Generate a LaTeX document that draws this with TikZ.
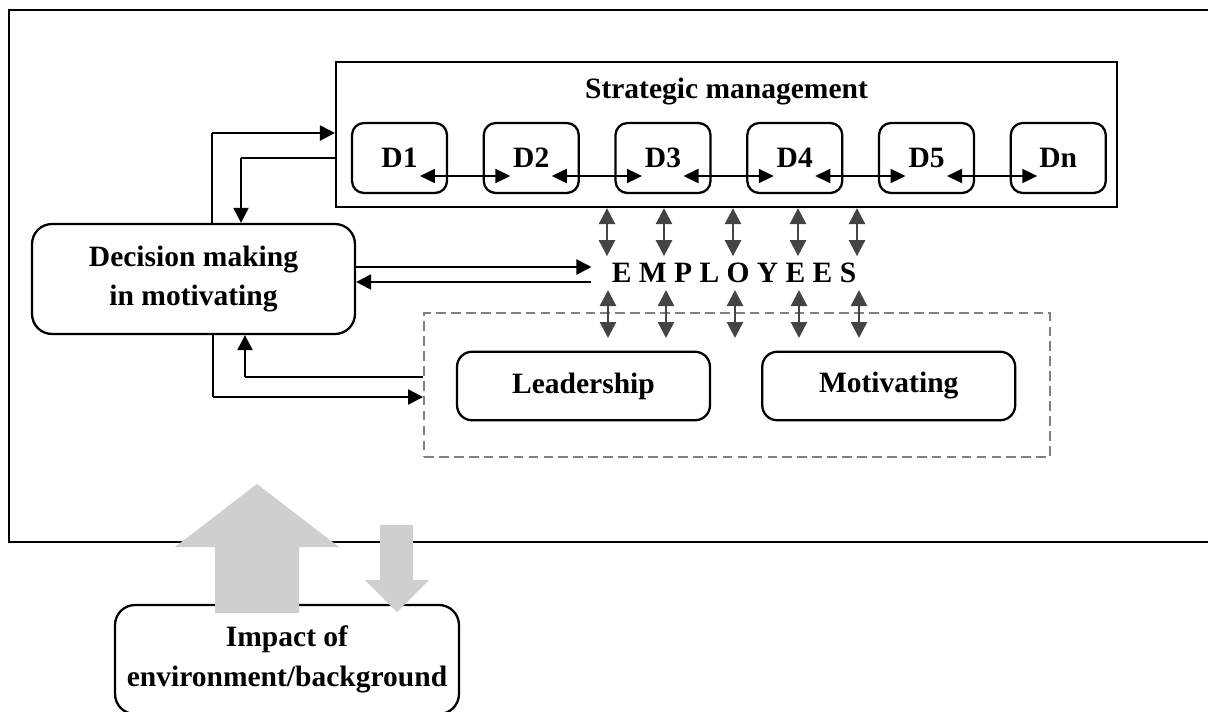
\documentclass[tikz,border=0pt]{standalone}
\usepackage{fontspec}
\setmainfont{Liberation Serif}
\usepackage{tikz}
\usetikzlibrary{arrows.meta, positioning}
\definecolor{empgray}{RGB}{68,68,68}
\definecolor{dashgray}{RGB}{128,128,128}
\definecolor{biggray}{RGB}{208,206,206}
\tikzstyle{boldtext} = [font=\fontsize{16.8}{22.5}\selectfont\bfseries, align=center]
\tikzstyle{frame} = [draw=black, line width=1.4pt]
\tikzstyle{dbox} = [rectangle, rounded corners=0.24cm, minimum width=1.9cm, minimum height=1.4cm, draw=black, line width=1.3pt, boldtext]
\tikzstyle{block} = [rectangle, rounded corners=0.4cm, draw=black, line width=1.3pt, boldtext]
\tikzstyle{smallblock} = [rectangle, rounded corners=0.3cm, minimum width=5.06cm, minimum height=1.37cm, draw=black, line width=1.3pt, boldtext]
\tikzstyle{arrow} = [line width=1.2pt, -{Triangle[length=3mm,width=3mm]}]
\tikzstyle{darrow} = [line width=1.2pt, {Triangle[length=3mm,width=2.8mm]}-{Triangle[length=3mm,width=2.8mm]}]
\tikzstyle{thinline} = [line width=0.7pt]
\tikzstyle{emparrow} = [line width=1.5pt, draw=empgray, {Triangle[length=3.2mm,width=3.2mm]}-{Triangle[length=3.2mm,width=3.2mm]}]

\begin{document}
\begin{tikzpicture}[x=0.02cm, y=-0.02cm]
\useasboundingbox (0,0) rectangle (1208,711);
\draw[frame] (1215,10) -- (9,10) -- (9,542) -- (1215,542);

% strategic management with decisions
\node (sm) [rectangle, draw=black, line width=1.3pt, minimum width=15.62cm, minimum height=2.9cm] at (726.5,134.5) {};
\node (smtitle) [boldtext] at (726.5,92) {Strategic management};
\node (d1) [dbox] at (399.5,158) {D1};
\node (d2) [dbox, right=0.69cm of d1] {D2};
\node (d3) [dbox, right=0.69cm of d2] {D3};
\node (d4) [dbox, right=0.69cm of d3] {D4};
\node (d5) [dbox, right=0.69cm of d4] {D5};
\node (dn) [dbox, right=0.69cm of d5] {Dn};
\foreach \a/\b in {d1/d2, d2/d3, d3/d4, d4/d5, d5/dn}
  \draw[darrow] ([xshift=0.41cm, yshift=-0.36cm]\a.center) -- ([xshift=-0.42cm, yshift=-0.36cm]\b.center);

\node (emp) [boldtext, inner xsep=0.4cm] at (734,273) {E M P L O Y E E S};
\node (dec) [block, minimum width=6.46cm, minimum height=2.2cm] at (193.5,279) {Decision making\\in motivating};

% leadership and motivating
\node (dash) [rectangle, draw=dashgray, dash pattern=on 5.5pt off 3pt, line width=1.1pt, minimum width=12.52cm, minimum height=2.88cm] at (737,385) {};
\node (lead) [smallblock] at (583.5,386) {Leadership};
\node (motiv) [smallblock, right=1cm of lead] {Motivating};

\node (impact) [block, minimum width=6.88cm, minimum height=2.18cm] at (287,659.5) {Impact of\\environment/background};

% employees arrows
\foreach \x in {607,664,733,798,857} {
  \coordinate (g) at (\x,0);
  \draw[emparrow] (sm.south -| g) -- ++(0,48);
}
\foreach \x in {608,666,735,799,859} {
  \coordinate (g) at (\x,290);
  \draw[emparrow] (g) -- ++(0,48);
}

% decision loops
\coordinate (c1) at (212,133);
\draw[thinline] (dec.north -| c1) -- (c1);
\draw[arrow] (c1) -- (sm.west |- c1);
\coordinate (c2) at (241,158);
\draw[thinline] (sm.west |- c2) -- (c2);
\draw[arrow] (c2) -- (dec.north -| c2);
\coordinate (e1) at (0,267);
\coordinate (e2) at (0,282);
\draw[arrow] (dec.east |- e1) -- (emp.west |- e1);
\draw[arrow] (emp.west |- e2) -- (dec.east |- e2);
\coordinate (c3) at (213,397);
\draw[thinline] (dec.south -| c3) -- (c3);
\draw[arrow] (c3) -- (dash.west |- c3);
\coordinate (c4) at (245,377);
\draw[thinline] (dash.west |- c4) -- (c4);
\draw[arrow] (c4) -- (dec.south -| c4);

% environment arrows
\fill[biggray] (215,613) -- (215,547) -- (175,547) -- (257,484) -- (339,547) -- (299,547) -- (299,613) -- cycle;
\fill[biggray] (380,525) -- (413,525) -- (413,580) -- (429,580) -- (397,612) -- (365,580) -- (380,580) -- cycle;
\end{tikzpicture}
\end{document}
